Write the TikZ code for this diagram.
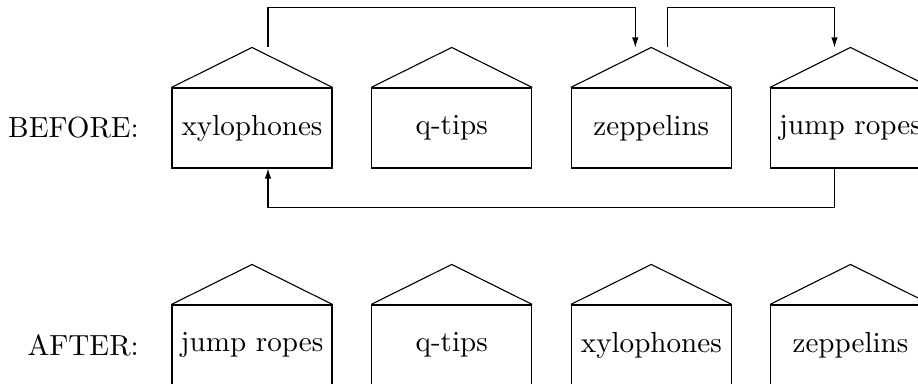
\documentclass[tikz,border=0pt]{standalone}
\usetikzlibrary{arrows.meta}
\newcommand{\bigtxt}[1]{\scalebox{2.91}{#1}}
\begin{document}
\begin{tikzpicture}[x=1pt,y=-1pt,
  house/.style={draw, rectangle, minimum width=160pt, minimum height=80pt, inner sep=0pt, line width=1.1pt},
  lbl/.style={anchor=east, inner sep=0pt},
  roof/.style={line width=1.1pt, line join=miter},
  conn/.style={line width=1.1pt, -{Latex[length=10pt,width=6.5pt]}}]
\clip (0,0) rectangle (918,383);
% BEFORE row
\node[lbl] (lb) at (139,128) {\bigtxt{BEFORE:}};
\node[house] (b1) at (252,128) {\bigtxt{xylophones}};
\node[house] (b2) at (451.7,128) {\bigtxt{q-tips}};
\node[house] (b3) at (651.3,128) {\bigtxt{zeppelins}};
\node[house] (b4) at (850.5,128) {\bigtxt{jump ropes}};
% AFTER row
\node[lbl] (la) at (139,345) {\bigtxt{AFTER:}};
\node[house] (a1) at (252,345) {\bigtxt{jump ropes}};
\node[house] (a2) at (451.7,345) {\bigtxt{q-tips}};
\node[house] (a3) at (651.3,345) {\bigtxt{xylophones}};
\node[house] (a4) at (850.5,345) {\bigtxt{zeppelins}};
% roofs
\foreach \n in {b1,b2,b3,b4,a1,a2,a3,a4}{
  \coordinate (\n top) at ([yshift=40pt]\n.north);
  \draw[roof] (\n.north west) -- (\n top) -- (\n.north east);
}
% connectors
\draw[conn] ([xshift=16pt]b1top) -- ++(0,-40) -| ([xshift=-16pt]b3top);
\draw[conn] ([xshift=16pt]b3top) -- ++(0,-40) -| ([xshift=-16pt]b4top);
\draw[conn] ([xshift=-16pt]b4.south) -- ++(0,39) -| ([xshift=16pt]b1.south);
\end{tikzpicture}
\end{document}
